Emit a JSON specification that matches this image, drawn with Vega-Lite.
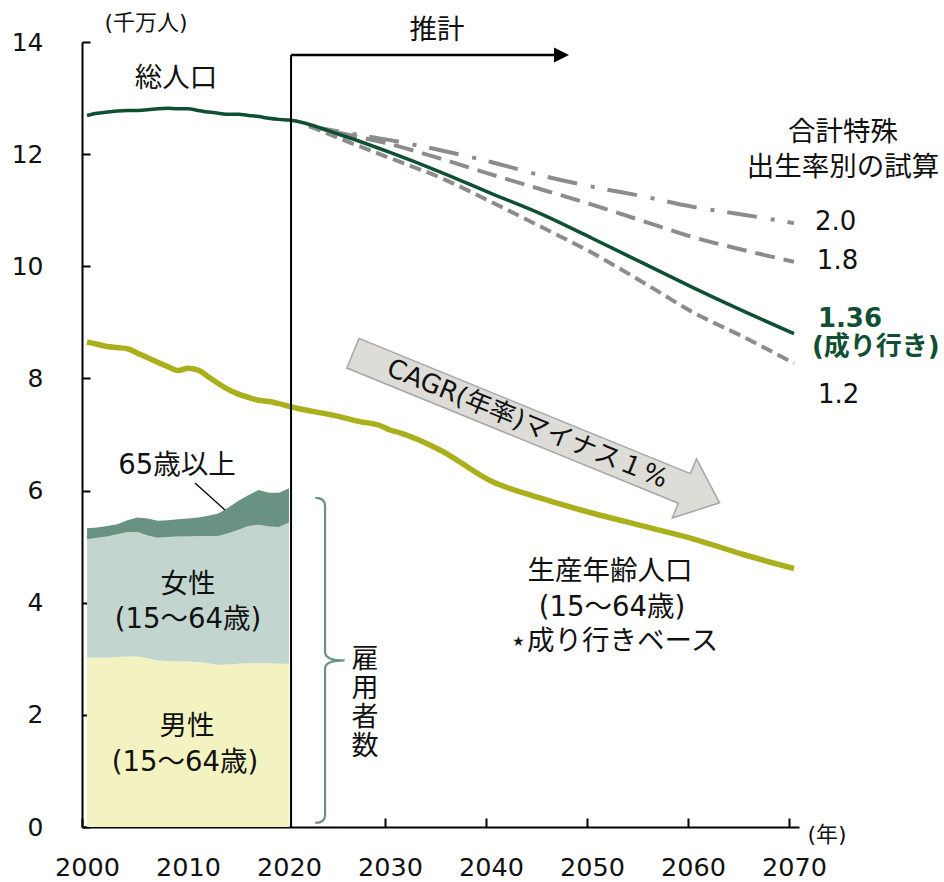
{
  "$schema": "https://vega.github.io/schema/vega-lite/v6.json",
  "autosize": "none",
  "width": 717,
  "height": 785,
  "padding": {"left": 82, "top": 42, "right": 145, "bottom": 55},
  "background": "white",
  "config": {
    "view": {"stroke": null},
    "font": "DejaVu Sans, Noto Sans CJK JP",
    "text": {"font": "DejaVu Sans, Noto Sans CJK JP", "color": "#111111"},
    "axisX": {
      "grid": false, "domainColor": "#000000", "domainWidth": 2,
      "tickColor": "#000000", "tickWidth": 2, "tickSize": -9,
      "tickOffset": -5, "labelOffset": 5,
      "labelPadding": 37, "labelFontSize": 25.5, "labelColor": "#111111",
      "labelFont": "DejaVu Sans", "labelFlush": false, "labelOverlap": false
    },
    "axisY": {
      "grid": false, "domainColor": "#000000", "domainWidth": 2,
      "tickColor": "#000000", "tickWidth": 2, "tickSize": -8,
      "labelPadding": 47, "labelFontSize": 25, "labelColor": "#111111",
      "labelFont": "DejaVu Sans", "labelFlush": false, "labelOverlap": false
    }
  },
  "datasets": {
    "one": [{}],
    "employees": [
      {"year": 2000, "group": "男性", "value": 3.02}, {"year": 2001, "group": "男性", "value": 3.02}, {"year": 2002, "group": "男性", "value": 3.02},
      {"year": 2003, "group": "男性", "value": 3.03}, {"year": 2004, "group": "男性", "value": 3.04}, {"year": 2005, "group": "男性", "value": 3.04},
      {"year": 2006, "group": "男性", "value": 3.01}, {"year": 2007, "group": "男性", "value": 2.97}, {"year": 2008, "group": "男性", "value": 2.96},
      {"year": 2009, "group": "男性", "value": 2.95}, {"year": 2010, "group": "男性", "value": 2.95}, {"year": 2011, "group": "男性", "value": 2.94},
      {"year": 2012, "group": "男性", "value": 2.92}, {"year": 2013, "group": "男性", "value": 2.89}, {"year": 2014, "group": "男性", "value": 2.90},
      {"year": 2015, "group": "男性", "value": 2.91}, {"year": 2016, "group": "男性", "value": 2.92}, {"year": 2017, "group": "男性", "value": 2.92},
      {"year": 2018, "group": "男性", "value": 2.92}, {"year": 2019, "group": "男性", "value": 2.91}, {"year": 2020, "group": "男性", "value": 2.91},
      {"year": 2000, "group": "女性", "value": 2.11}, {"year": 2001, "group": "女性", "value": 2.14}, {"year": 2002, "group": "女性", "value": 2.16},
      {"year": 2003, "group": "女性", "value": 2.19}, {"year": 2004, "group": "女性", "value": 2.22}, {"year": 2005, "group": "女性", "value": 2.22},
      {"year": 2006, "group": "女性", "value": 2.19}, {"year": 2007, "group": "女性", "value": 2.19}, {"year": 2008, "group": "女性", "value": 2.21},
      {"year": 2009, "group": "女性", "value": 2.23}, {"year": 2010, "group": "女性", "value": 2.23}, {"year": 2011, "group": "女性", "value": 2.25},
      {"year": 2012, "group": "女性", "value": 2.27}, {"year": 2013, "group": "女性", "value": 2.30}, {"year": 2014, "group": "女性", "value": 2.34},
      {"year": 2015, "group": "女性", "value": 2.39}, {"year": 2016, "group": "女性", "value": 2.45}, {"year": 2017, "group": "女性", "value": 2.47},
      {"year": 2018, "group": "女性", "value": 2.44}, {"year": 2019, "group": "女性", "value": 2.44}, {"year": 2020, "group": "女性", "value": 2.52},
      {"year": 2000, "group": "65歳以上", "value": 0.20}, {"year": 2001, "group": "65歳以上", "value": 0.18}, {"year": 2002, "group": "65歳以上", "value": 0.19},
      {"year": 2003, "group": "65歳以上", "value": 0.18}, {"year": 2004, "group": "65歳以上", "value": 0.21}, {"year": 2005, "group": "65歳以上", "value": 0.26},
      {"year": 2006, "group": "65歳以上", "value": 0.30}, {"year": 2007, "group": "65歳以上", "value": 0.30}, {"year": 2008, "group": "65歳以上", "value": 0.30},
      {"year": 2009, "group": "65歳以上", "value": 0.31}, {"year": 2010, "group": "65歳以上", "value": 0.32}, {"year": 2011, "group": "65歳以上", "value": 0.33},
      {"year": 2012, "group": "65歳以上", "value": 0.36}, {"year": 2013, "group": "65歳以上", "value": 0.40}, {"year": 2014, "group": "65歳以上", "value": 0.46},
      {"year": 2015, "group": "65歳以上", "value": 0.52}, {"year": 2016, "group": "65歳以上", "value": 0.55}, {"year": 2017, "group": "65歳以上", "value": 0.62},
      {"year": 2018, "group": "65歳以上", "value": 0.60}, {"year": 2019, "group": "65歳以上", "value": 0.61}, {"year": 2020, "group": "65歳以上", "value": 0.61}
    ],
    "population": [
      {"year": 2000, "series": "総人口", "value": 12.69}, {"year": 2001, "series": "総人口", "value": 12.73}, {"year": 2002, "series": "総人口", "value": 12.75},
      {"year": 2003, "series": "総人口", "value": 12.77}, {"year": 2004, "series": "総人口", "value": 12.78}, {"year": 2005, "series": "総人口", "value": 12.78},
      {"year": 2006, "series": "総人口", "value": 12.79}, {"year": 2007, "series": "総人口", "value": 12.81}, {"year": 2008, "series": "総人口", "value": 12.82},
      {"year": 2009, "series": "総人口", "value": 12.81}, {"year": 2010, "series": "総人口", "value": 12.81}, {"year": 2011, "series": "総人口", "value": 12.78},
      {"year": 2012, "series": "総人口", "value": 12.75}, {"year": 2013, "series": "総人口", "value": 12.73}, {"year": 2014, "series": "総人口", "value": 12.71},
      {"year": 2015, "series": "総人口", "value": 12.71}, {"year": 2016, "series": "総人口", "value": 12.69}, {"year": 2017, "series": "総人口", "value": 12.67},
      {"year": 2018, "series": "総人口", "value": 12.64}, {"year": 2019, "series": "総人口", "value": 12.62}, {"year": 2020, "series": "総人口", "value": 12.61},
      {"year": 2025, "series": "総人口", "value": 12.35}, {"year": 2030, "series": "総人口", "value": 12.03}, {"year": 2035, "series": "総人口", "value": 11.68},
      {"year": 2040, "series": "総人口", "value": 11.30}, {"year": 2045, "series": "総人口", "value": 10.93}, {"year": 2050, "series": "総人口", "value": 10.50},
      {"year": 2055, "series": "総人口", "value": 10.06}, {"year": 2060, "series": "総人口", "value": 9.62}, {"year": 2065, "series": "総人口", "value": 9.20},
      {"year": 2070, "series": "総人口", "value": 8.80},
      {"year": 2000, "series": "生産年齢人口", "value": 8.65}, {"year": 2001, "series": "生産年齢人口", "value": 8.61}, {"year": 2002, "series": "生産年齢人口", "value": 8.57},
      {"year": 2003, "series": "生産年齢人口", "value": 8.55}, {"year": 2004, "series": "生産年齢人口", "value": 8.53}, {"year": 2005, "series": "生産年齢人口", "value": 8.45},
      {"year": 2006, "series": "生産年齢人口", "value": 8.37}, {"year": 2007, "series": "生産年齢人口", "value": 8.29}, {"year": 2008, "series": "生産年齢人口", "value": 8.21},
      {"year": 2009, "series": "生産年齢人口", "value": 8.14}, {"year": 2010, "series": "生産年齢人口", "value": 8.18}, {"year": 2011, "series": "生産年齢人口", "value": 8.15},
      {"year": 2012, "series": "生産年齢人口", "value": 8.03}, {"year": 2013, "series": "生産年齢人口", "value": 7.91}, {"year": 2014, "series": "生産年齢人口", "value": 7.80},
      {"year": 2015, "series": "生産年齢人口", "value": 7.72}, {"year": 2016, "series": "生産年齢人口", "value": 7.66}, {"year": 2017, "series": "生産年齢人口", "value": 7.61},
      {"year": 2018, "series": "生産年齢人口", "value": 7.59}, {"year": 2019, "series": "生産年齢人口", "value": 7.55}, {"year": 2020, "series": "生産年齢人口", "value": 7.50},
      {"year": 2025, "series": "生産年齢人口", "value": 7.32}, {"year": 2027, "series": "生産年齢人口", "value": 7.23}, {"year": 2029, "series": "生産年齢人口", "value": 7.16},
      {"year": 2030, "series": "生産年齢人口", "value": 7.08}, {"year": 2031, "series": "生産年齢人口", "value": 7.03}, {"year": 2035, "series": "生産年齢人口", "value": 6.72},
      {"year": 2040, "series": "生産年齢人口", "value": 6.17}, {"year": 2045, "series": "生産年齢人口", "value": 5.86}, {"year": 2050, "series": "生産年齢人口", "value": 5.60},
      {"year": 2055, "series": "生産年齢人口", "value": 5.37}, {"year": 2060, "series": "生産年齢人口", "value": 5.14}, {"year": 2065, "series": "生産年齢人口", "value": 4.86},
      {"year": 2070, "series": "生産年齢人口", "value": 4.61},
      {"year": 2022, "series": "2.0", "value": 12.50}, {"year": 2025, "series": "2.0", "value": 12.40}, {"year": 2030, "series": "2.0", "value": 12.25},
      {"year": 2035, "series": "2.0", "value": 12.07}, {"year": 2040, "series": "2.0", "value": 11.86}, {"year": 2045, "series": "2.0", "value": 11.62},
      {"year": 2050, "series": "2.0", "value": 11.42}, {"year": 2055, "series": "2.0", "value": 11.25}, {"year": 2060, "series": "2.0", "value": 11.06},
      {"year": 2065, "series": "2.0", "value": 10.92}, {"year": 2070, "series": "2.0", "value": 10.77},
      {"year": 2022, "series": "1.8", "value": 12.50}, {"year": 2025, "series": "1.8", "value": 12.38}, {"year": 2030, "series": "1.8", "value": 12.18},
      {"year": 2035, "series": "1.8", "value": 11.92}, {"year": 2040, "series": "1.8", "value": 11.64}, {"year": 2045, "series": "1.8", "value": 11.37},
      {"year": 2050, "series": "1.8", "value": 11.10}, {"year": 2055, "series": "1.8", "value": 10.81}, {"year": 2060, "series": "1.8", "value": 10.52},
      {"year": 2065, "series": "1.8", "value": 10.29}, {"year": 2070, "series": "1.8", "value": 10.08},
      {"year": 2022, "series": "1.2", "value": 12.50}, {"year": 2025, "series": "1.2", "value": 12.28}, {"year": 2030, "series": "1.2", "value": 11.93},
      {"year": 2035, "series": "1.2", "value": 11.58}, {"year": 2040, "series": "1.2", "value": 11.15}, {"year": 2045, "series": "1.2", "value": 10.70},
      {"year": 2050, "series": "1.2", "value": 10.24}, {"year": 2055, "series": "1.2", "value": 9.72}, {"year": 2060, "series": "1.2", "value": 9.18},
      {"year": 2065, "series": "1.2", "value": 8.74}, {"year": 2070, "series": "1.2", "value": 8.27}
    ]
  },
  "layer": [
    {
      "data": {"name": "employees"},
      "mark": {"type": "area", "interpolate": "linear"},
      "encoding": {
        "x": {
          "field": "year", "type": "quantitative", "title": null,
          "scale": {"domain": [1999.5, 2070.5], "nice": false, "zero": false},
          "axis": {"title": null, "values": [2000, 2010, 2020, 2030, 2040, 2050, 2060, 2070], "format": "d"}
        },
        "y": {
          "aggregate": "sum", "field": "value", "type": "quantitative", "stack": "zero", "title": null,
          "scale": {"domain": [0, 14], "nice": false},
          "axis": {"title": null, "values": [0, 2, 4, 6, 8, 10, 12, 14]}
        },
        "color": {
          "field": "group", "type": "nominal", "sort": ["男性", "女性", "65歳以上"],
          "scale": {"domain": ["男性", "女性", "65歳以上"], "range": ["#f3f3c2", "#c2d6cf", "#6a9282"]},
          "legend": null
        }
      }
    },
    {
      "data": {"name": "population"},
      "transform": [{"filter": "datum.series === '2.0' || datum.series === '1.8' || datum.series === '1.2'"}],
      "mark": {"type": "line", "interpolate": "monotone", "color": "#8c8c8c", "strokeWidth": 4, "strokeCap": "butt"},
      "encoding": {
        "x": {"field": "year", "type": "quantitative", "title": null, "axis": {"title": null, "values": [2000, 2010, 2020, 2030, 2040, 2050, 2060, 2070], "format": "d"}},
        "y": {"field": "value", "type": "quantitative", "title": null, "axis": {"title": null, "values": [0, 2, 4, 6, 8, 10, 12, 14]}},
        "detail": {"field": "series", "type": "nominal"},
        "strokeDash": {
          "field": "series", "type": "nominal",
          "scale": {"domain": ["2.0", "1.8", "1.2"], "range": [[30, 14, 4, 13], [20, 9], [12, 6]]},
          "legend": null
        }
      }
    },
    {
      "data": {"name": "population"},
      "transform": [{"filter": "datum.series === '生産年齢人口'"}],
      "mark": {"type": "line", "interpolate": "monotone", "color": "#a9b01c", "strokeWidth": 5.5},
      "encoding": {
        "x": {"field": "year", "type": "quantitative", "title": null, "axis": {"title": null, "values": [2000, 2010, 2020, 2030, 2040, 2050, 2060, 2070], "format": "d"}},
        "y": {"field": "value", "type": "quantitative", "title": null, "axis": {"title": null, "values": [0, 2, 4, 6, 8, 10, 12, 14]}}
      }
    },
    {
      "data": {"name": "population"},
      "transform": [{"filter": "datum.series === '総人口'"}],
      "mark": {"type": "line", "interpolate": "monotone", "color": "#0f5034", "strokeWidth": 3.5},
      "encoding": {
        "x": {"field": "year", "type": "quantitative", "title": null, "axis": {"title": null, "values": [2000, 2010, 2020, 2030, 2040, 2050, 2060, 2070], "format": "d"}},
        "y": {"field": "value", "type": "quantitative", "title": null, "axis": {"title": null, "values": [0, 2, 4, 6, 8, 10, 12, 14]}}
      }
    },
    {
      "data": {"name": "one"},
      "mark": {"type": "rule", "color": "#000000", "strokeWidth": 2},
      "encoding": {
        "x": {"datum": 2020.2, "type": "quantitative", "title": null, "axis": {"title": null, "values": [2000, 2010, 2020, 2030, 2040, 2050, 2060, 2070], "format": "d"}},
        "y": {"datum": 0, "type": "quantitative", "title": null, "axis": {"title": null, "values": [0, 2, 4, 6, 8, 10, 12, 14]}},
        "y2": {"datum": 13.77}
      }
    },
    {
      "data": {"name": "one"},
      "mark": {"type": "rule", "color": "#000000", "strokeWidth": 2.5},
      "encoding": {
        "x": {"datum": 2020.2, "type": "quantitative", "title": null, "axis": {"title": null, "values": [2000, 2010, 2020, 2030, 2040, 2050, 2060, 2070], "format": "d"}},
        "x2": {"datum": 2046.5},
        "y": {"datum": 13.77, "type": "quantitative", "title": null, "axis": {"title": null, "values": [0, 2, 4, 6, 8, 10, 12, 14]}}
      }
    },
    {
      "data": {"name": "one"},
      "mark": {"type": "point", "shape": "M -1 -1 L 1 0 L -1 1 Z", "filled": true, "color": "#000000", "opacity": 1, "size": 225},
      "encoding": {
        "x": {"datum": 2046.98, "type": "quantitative", "title": null, "axis": {"title": null, "values": [2000, 2010, 2020, 2030, 2040, 2050, 2060, 2070], "format": "d"}},
        "y": {"datum": 13.77, "type": "quantitative", "title": null, "axis": {"title": null, "values": [0, 2, 4, 6, 8, 10, 12, 14]}}
      }
    },
    {
      "data": {"name": "one"},
      "mark": {
        "type": "point", "shape": "M -0.99 -0.08 L 0.8 -0.08 L 0.8 -0.16 L 0.99 0 L 0.8 0.16 L 0.8 0.08 L -0.99 0.08 Z",
        "filled": true, "fill": "#dddcd7", "fillOpacity": 1, "stroke": "#a6a6a6", "strokeWidth": 1.5, "opacity": 1,
        "size": 160000, "angle": 22.2
      },
      "encoding": {
        "x": {"datum": 2044.48, "type": "quantitative", "title": null, "axis": {"title": null, "values": [2000, 2010, 2020, 2030, 2040, 2050, 2060, 2070], "format": "d"}},
        "y": {"datum": 7.116, "type": "quantitative", "title": null, "axis": {"title": null, "values": [0, 2, 4, 6, 8, 10, 12, 14]}}
      }
    },
    {
      "data": {"name": "one"},
      "mark": {"type": "text", "text": "CAGR(年率)マイナス１%", "angle": 22.2, "fontSize": 26, "align": "center", "baseline": "middle"},
      "encoding": {
        "x": {"datum": 2043.6, "type": "quantitative", "title": null, "axis": {"title": null, "values": [2000, 2010, 2020, 2030, 2040, 2050, 2060, 2070], "format": "d"}},
        "y": {"datum": 7.19, "type": "quantitative", "title": null, "axis": {"title": null, "values": [0, 2, 4, 6, 8, 10, 12, 14]}}
      }
    },
    {
      "data": {"name": "one"},
      "mark": {
        "type": "point", "shape": "M -0.06 -1 Q 0 -1 0 -0.95 L 0 -0.05 Q 0 0 0.12 0 Q 0 0 0 0.05 L 0 0.95 Q 0 1 -0.06 1",
        "filled": false, "fill": "transparent", "stroke": "#6a9282", "strokeWidth": 2.2, "opacity": 1, "size": 105625
      },
      "encoding": {
        "x": {"datum": 2023.57, "type": "quantitative", "title": null, "axis": {"title": null, "values": [2000, 2010, 2020, 2030, 2040, 2050, 2060, 2070], "format": "d"}},
        "y": {"datum": 2.97, "type": "quantitative", "title": null, "axis": {"title": null, "values": [0, 2, 4, 6, 8, 10, 12, 14]}}
      }
    },
    {
      "data": {"name": "one"},
      "mark": {"type": "rule", "color": "#000000", "strokeWidth": 1.3},
      "encoding": {
        "x": {"datum": 2010.69, "type": "quantitative", "title": null, "axis": {"title": null, "values": [2000, 2010, 2020, 2030, 2040, 2050, 2060, 2070], "format": "d"}},
        "y": {"datum": 6.135, "type": "quantitative", "title": null, "axis": {"title": null, "values": [0, 2, 4, 6, 8, 10, 12, 14]}},
        "x2": {"datum": 2013.66},
        "y2": {"datum": 5.654}
      }
    },
    {
      "data": {"values": [
        {"year": 2008.81, "value": 13.34, "label": "総人口"},
        {"year": 2034.65, "value": 14.2, "label": "推計"},
        {"year": 2074.85, "value": 12.38, "label": "合計特殊"},
        {"year": 2074.85, "value": 11.76, "label": "出生率別の試算"},
        {"year": 2008.91, "value": 6.44, "label": "65歳以上"},
        {"year": 2010.0, "value": 4.32, "label": "女性"},
        {"year": 2010.0, "value": 3.69, "label": "(15〜64歳)"},
        {"year": 2009.9, "value": 1.78, "label": "男性"},
        {"year": 2009.7, "value": 1.15, "label": "(15〜64歳)"},
        {"year": 2051.78, "value": 4.55, "label": "生産年齢人口"},
        {"year": 2051.98, "value": 3.91, "label": "(15〜64歳)"},
        {"year": 2052.18, "value": 3.30, "label": "⋆成り行きベース"}
      ]},
      "mark": {"type": "text", "fontSize": 27.5, "align": "center", "baseline": "middle"},
      "encoding": {
        "x": {"field": "year", "type": "quantitative", "title": null, "axis": {"title": null, "values": [2000, 2010, 2020, 2030, 2040, 2050, 2060, 2070], "format": "d"}},
        "y": {"field": "value", "type": "quantitative", "title": null, "axis": {"title": null, "values": [0, 2, 4, 6, 8, 10, 12, 14]}},
        "text": {"field": "label"}
      }
    },
    {
      "data": {"values": [
        {"year": 2072.08, "value": 10.79, "label": "2.0"},
        {"year": 2072.27, "value": 10.09, "label": "1.8"},
        {"year": 2072.37, "value": 7.70, "label": "1.2"}
      ]},
      "mark": {"type": "text", "fontSize": 26, "align": "left", "baseline": "middle", "font": "DejaVu Sans"},
      "encoding": {
        "x": {"field": "year", "type": "quantitative", "title": null, "axis": {"title": null, "values": [2000, 2010, 2020, 2030, 2040, 2050, 2060, 2070], "format": "d"}},
        "y": {"field": "value", "type": "quantitative", "title": null, "axis": {"title": null, "values": [0, 2, 4, 6, 8, 10, 12, 14]}},
        "text": {"field": "label"}
      }
    },
    {
      "data": {"values": [
        {"year": 2072.37, "value": 9.06, "label": "1.36"},
        {"year": 2071.78, "value": 8.56, "label": "(成り行き)"}
      ]},
      "mark": {"type": "text", "fontSize": 26, "fontWeight": "bold", "align": "left", "baseline": "middle", "color": "#0f5034"},
      "encoding": {
        "x": {"field": "year", "type": "quantitative", "title": null, "axis": {"title": null, "values": [2000, 2010, 2020, 2030, 2040, 2050, 2060, 2070], "format": "d"}},
        "y": {"field": "value", "type": "quantitative", "title": null, "axis": {"title": null, "values": [0, 2, 4, 6, 8, 10, 12, 14]}},
        "text": {"field": "label"}
      }
    },
    {
      "data": {"values": [
        {"year": 2005.84, "value": 14.34, "label": "(千万人)"},
        {"year": 2073.27, "value": -0.14, "label": "(年)"}
      ]},
      "mark": {"type": "text", "fontSize": 22, "align": "center", "baseline": "middle"},
      "encoding": {
        "x": {"field": "year", "type": "quantitative", "title": null, "axis": {"title": null, "values": [2000, 2010, 2020, 2030, 2040, 2050, 2060, 2070], "format": "d"}},
        "y": {"field": "value", "type": "quantitative", "title": null, "axis": {"title": null, "values": [0, 2, 4, 6, 8, 10, 12, 14]}},
        "text": {"field": "label"}
      }
    },
    {
      "data": {"name": "one"},
      "mark": {"type": "text", "text": ["雇", "用", "者", "数"], "fontSize": 27, "lineHeight": 29, "align": "center", "baseline": "middle"},
      "encoding": {
        "x": {"datum": 2027.52, "type": "quantitative", "title": null, "axis": {"title": null, "values": [2000, 2010, 2020, 2030, 2040, 2050, 2060, 2070], "format": "d"}},
        "y": {"datum": 2.97, "type": "quantitative", "title": null, "axis": {"title": null, "values": [0, 2, 4, 6, 8, 10, 12, 14]}}
      }
    }
  ]
}
